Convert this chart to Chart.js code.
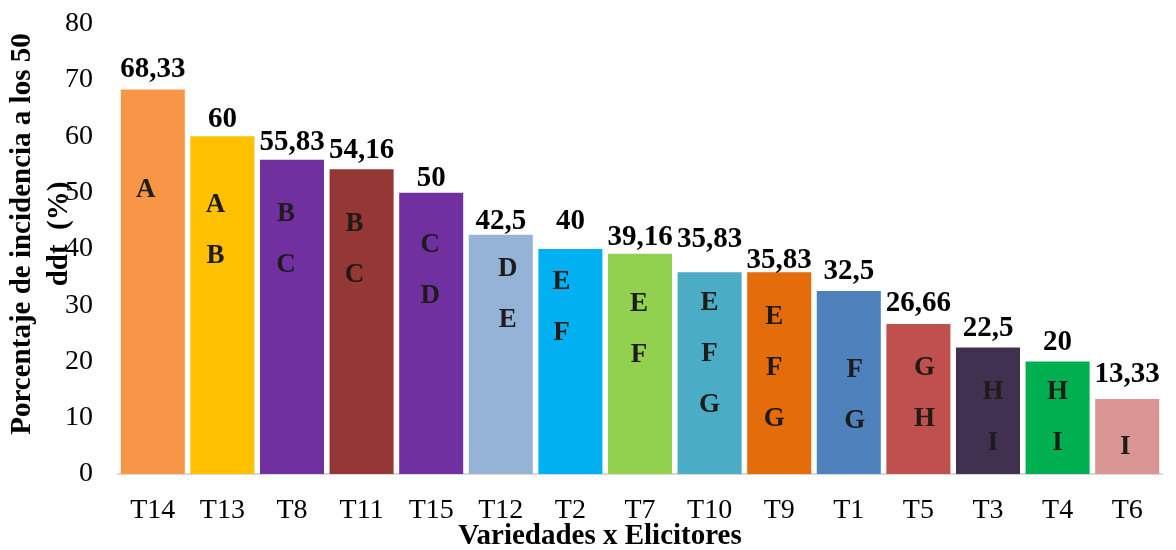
<!DOCTYPE html>
<html lang="es">
<head>
<meta charset="utf-8">
<title>Porcentaje de incidencia a los 50 ddt</title>
<script src="https://cdn.jsdelivr.net/npm/chart.js@4.4.0/dist/chart.umd.min.js"></script>
<style>
  html, body { margin: 0; padding: 0; background: #ffffff; }
  #wrap { width: 1176px; height: 550px; }
</style>
</head>
<body>
<div id="wrap"><canvas id="chart" width="1176" height="550"></canvas></div>
<script>
// Tratamientos (variedad x elicitor), ordenados de mayor a menor incidencia
const categories = ['T14', 'T13', 'T8', 'T11', 'T15', 'T12', 'T2', 'T7', 'T10', 'T9', 'T1', 'T5', 'T3', 'T4', 'T6'];
// Incidencia a los 50 ddt (%)
const incidence = [68.33, 60, 55.83, 54.16, 50, 42.5, 40, 39.16, 35.83, 35.83, 32.5, 26.66, 22.5, 20, 13.33];
// Grupos de significancia (prueba de medias)
const groups = ['A', 'AB', 'BC', 'BC', 'CD', 'DE', 'EF', 'EF', 'EFG', 'EFG', 'FG', 'GH', 'HI', 'HI', 'I'];
// Marcas del eje Y
const yTicks = [0, 10, 20, 30, 40, 50, 60, 70, 80];

// Colores de cada barra
const barColors = ['#F79646', '#FFC000', '#7030A0', '#953735', '#7030A0', '#95B3D7', '#00B0F0',
  '#92D050', '#4BACC6', '#E46C0A', '#4F81BD', '#C0504D', '#403151', '#00B050', '#D99694'];

// Ubicación de las etiquetas dentro/encima de cada barra
const groupTopLevel = [50.4, 47.8, 46.2, 44.4, 40.7, 36.4, 34.1, 30.2, 30.4, 27.9, 18.5, 18.8, 14.6, 14.6, 4.8];
const groupShiftX = [-7, -7, -6, -7, -1, 7, -9, -1, 0, -5, 6, 6, 5, 0, -2];
const valueGap = [12, 9, 10, 11, 7, 6, 20, 9, 25, 4, 12, 13, 11, 11, 17];

const SERIF = '"Times New Roman", "Liberation Serif", "DejaVu Serif", serif';

const fmt = v => String(v).replace('.', ',');

const annotations = {
  id: 'annotations',
  afterDatasetsDraw(chart) {
    const ctx = chart.ctx;
    const yScale = chart.scales.y;
    const bars = chart.getDatasetMeta(0).data;
    ctx.save();
    ctx.textAlign = 'center';
    // valores sobre las barras
    ctx.fillStyle = '#000000';
    ctx.font = 'bold 29px ' + SERIF;
    ctx.textBaseline = 'alphabetic';
    bars.forEach((bar, i) => {
      ctx.fillText(fmt(incidence[i]), bar.x, bar.y - valueGap[i]);
    });
    // letras de significancia
    ctx.fillStyle = '#1e1b18';
    ctx.font = 'bold 27px ' + SERIF;
    ctx.textBaseline = 'middle';
    bars.forEach((bar, i) => {
      const y0 = yScale.getPixelForValue(groupTopLevel[i]);
      groups[i].split('').forEach((letter, k) => {
        ctx.fillText(letter, bar.x + groupShiftX[i], y0 + k * 51);
      });
    });
    ctx.restore();
  },
  afterDraw(chart) {
    const ctx = chart.ctx;
    ctx.save();
    ctx.fillStyle = '#000000';
    ctx.font = 'bold 29px ' + SERIF;
    ctx.textAlign = 'center';
    ctx.textBaseline = 'middle';
    // título del eje X
    ctx.fillText('Variedades x Elicitores', 600, 537);
    // título del eje Y en dos líneas
    ctx.translate(0, 234);
    ctx.rotate(-Math.PI / 2);
    ctx.fillText('Porcentaje de incidencia a los 50', 0, 23);
    ctx.fillText('ddt  (%)', 0, 60);
    ctx.restore();
  }
};

new Chart(document.getElementById('chart'), {
  type: 'bar',
  data: {
    labels: categories,
    datasets: [{
      data: incidence,
      backgroundColor: barColors,
      borderWidth: 0,
      barPercentage: 0.92,
      categoryPercentage: 1.0
    }]
  },
  options: {
    responsive: false,
    devicePixelRatio: 1,
    animation: false,
    layout: { padding: { top: 0, right: 14, left: 0, bottom: 0 } },
    plugins: {
      legend: { display: false },
      tooltip: { enabled: false }
    },
    scales: {
      x: {
        grid: { display: false, drawTicks: false },
        border: { display: true, color: '#D9D9D9', width: 2 },
        ticks: {
          color: '#000000',
          font: { family: SERIF, size: 28 },
          padding: 20,
          maxRotation: 0,
          autoSkip: false
        },
        afterFit(scale) { scale.height = 76; }
      },
      y: {
        min: 0,
        max: 80,
        grid: { display: false, drawTicks: true, tickLength: 18 },
        border: { display: false },
        afterBuildTicks(scale) { scale.ticks = yTicks.map(v => ({ value: v })); },
        ticks: {
          color: '#000000',
          font: { family: SERIF, size: 28 },
          padding: 7
        },
        afterFit(scale) { scale.width = 118; }
      }
    }
  },
  plugins: [annotations]
});
</script>
</body>
</html>
